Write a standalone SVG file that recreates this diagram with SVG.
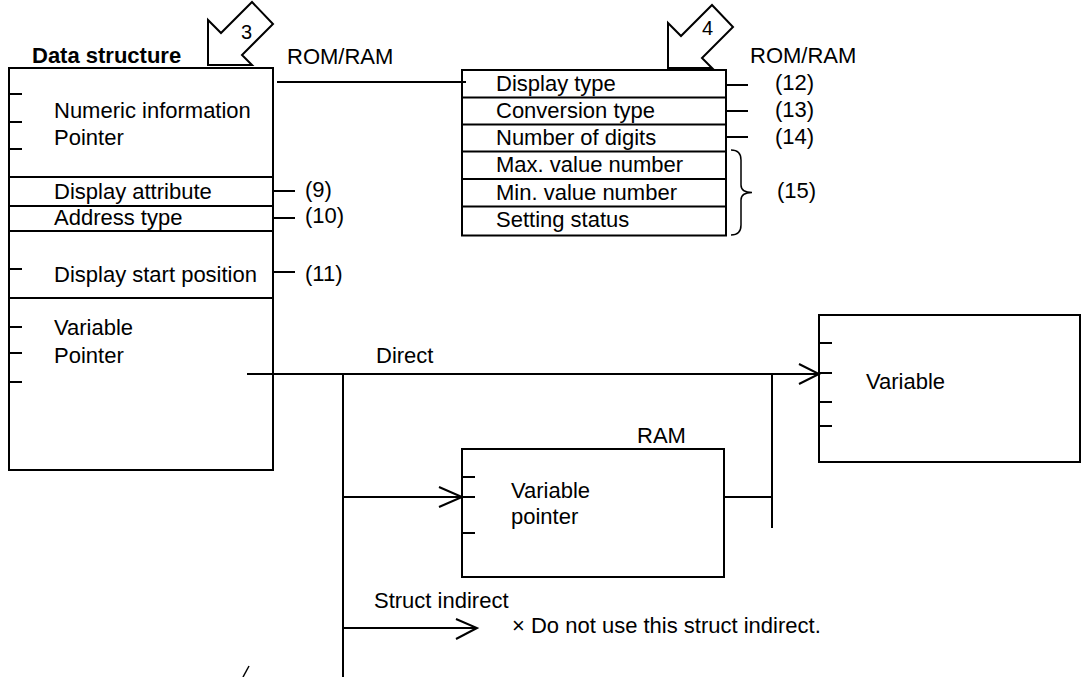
<svg xmlns="http://www.w3.org/2000/svg" width="1082" height="677" viewBox="0 0 1082 677">
<style>
text{font-family:"Liberation Sans",Arial,sans-serif;font-size:22px;fill:#000}
.b{font-weight:bold}
.n{font-size:20px}
.box{fill:#fff;stroke:#000;stroke-width:2}
.ln{stroke:#000;stroke-width:2;fill:none}
.thin{stroke:#000;stroke-width:1.5;fill:none}
.arr{fill:#fff;stroke:#000;stroke-width:2;stroke-linejoin:miter}
</style>
<rect width="1082" height="677" fill="#fff"/>

<g id="data-structure">
<text class="b" x="32" y="63">Data structure</text>
<text x="287" y="64">ROM/RAM</text>
<rect class="box" x="9" y="68" width="264" height="402"/>
<path class="ln" d="M9 177H273M9 206H273M9 231H273M9 298H273"/>
<path class="ln" d="M9 94H22M9 122H22M9 149H22M9 269H22M9 327H22M9 353H22M9 382H22"/>
<text x="54" y="118">Numeric information</text>
<text x="54" y="145">Pointer</text>
<text x="54" y="199">Display attribute</text>
<text x="54" y="225">Address type</text>
<text x="54" y="282">Display start position</text>
<text x="54" y="335">Variable</text>
<text x="54" y="363">Pointer</text>
<path class="ln" d="M273 191H295M273 218H295M273 272H295"/>
<text x="305" y="197">(9)</text>
<text x="305" y="223">(10)</text>
<text x="305" y="281">(11)</text>
</g>

<g id="arrow-3">
<polygon class="arr" points="208,65 208,20 221,33 252,2 273,24 242,55 252,65"/>
<text class="n" x="241" y="39">3</text>
</g>

<g id="display-table">
<text x="750" y="63">ROM/RAM</text>
<rect class="box" x="462" y="70" width="264" height="165.5"/>
<path class="ln" d="M462 97.5H726M462 124.5H726M462 151.5H726M462 179H726M462 206.5H726"/>
<text x="496" y="90.5">Display type</text>
<text x="496" y="117.5">Conversion type</text>
<text x="496" y="144.5">Number of digits</text>
<text x="496" y="172">Max. value number</text>
<text x="496" y="199.5">Min. value number</text>
<text x="496" y="227">Setting status</text>
<path class="ln" d="M726 85H748M726 111H748M726 137H748"/>
<text x="775" y="90">(12)</text>
<text x="775" y="117">(13)</text>
<text x="775" y="144">(14)</text>
<path class="thin" d="M731 150Q741 150 741 160L741 185Q741 192.5 752 192.5Q741 192.5 741 200L741 225Q741 235 731 235"/>
<text x="777" y="198">(15)</text>
</g>

<g id="arrow-4">
<polygon class="arr" points="668,68 668,23 681,36 712,5 733,27 702,58 712,68"/>
<text class="n" x="702" y="35">4</text>
</g>

<g id="variable-pointer">
<text x="637" y="443">RAM</text>
<rect class="box" x="462" y="449" width="262" height="128"/>
<path class="ln" d="M462 477H475M462 497H475M462 533H475"/>
<text x="511" y="498">Variable</text>
<text x="511" y="524">pointer</text>
</g>

<g id="variable">
<rect class="box" x="819" y="315" width="261" height="147"/>
<path class="ln" d="M819 343H832M819 373H832M819 402H832M819 426H832"/>
<text x="866" y="389">Variable</text>
</g>

<g id="connectors">
<path class="ln" d="M277 82H466"/>
<path class="ln" d="M247 374H819"/>
<path class="ln" d="M799 364L819 374L799 384"/>
<text x="376" y="363">Direct</text>
<path class="ln" d="M343 374V677"/>
<path class="ln" d="M343 497H462"/>
<path class="ln" d="M439 487L462 497L439 507"/>
<path class="ln" d="M724 497H772"/>
<path class="ln" d="M772 374V528"/>
<text x="374" y="608">Struct indirect</text>
<path class="ln" d="M343 628H477"/>
<path class="ln" d="M456 619L477 628L456 639"/>
<text x="512" y="633">× Do not use this struct indirect.</text>
<path class="thin" d="M243 677L249 666"/>
</g>
</svg>
